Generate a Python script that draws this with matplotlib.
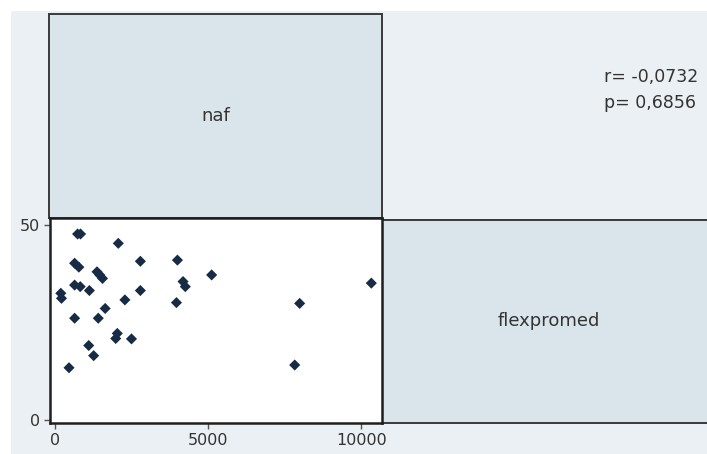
import matplotlib
matplotlib.use("Agg")
import matplotlib.pyplot as plt

# Scatter data: flexpromed (x) against naf (y)
flexpromed = [740, 836, 2068, 643, 781, 1373, 1463, 1553, 2788, 3997,
              5113, 4180, 4254, 3965, 643, 826, 1125, 193, 215, 2788,
              2283, 1640, 643, 1415, 2035, 1984, 2498, 1103, 1264, 460,
              10322, 7984, 7823]
naf = [47.7, 47.7, 45.3, 40.2, 39.2, 38.0, 37.2, 36.3, 40.7, 41.0,
       37.2, 35.5, 34.2, 30.1, 34.6, 34.2, 33.2, 32.5, 31.2, 33.2,
       30.8, 28.6, 26.1, 26.1, 22.2, 20.9, 20.8, 19.1, 16.5, 13.4,
       35.1, 29.9, 14.1]

x_ticks = [0, 5000, 10000]
y_ticks = [0, 50]
var_labels = ["naf", "flexpromed"]
stats_text = ["r= -0,0732", "p= 0,6856"]

W, H = 707, 454
BG = "#eaf0f3"
CELL = "#d9e4eb"
TXT = "#333333"
MARK = "#172c44"

plt.rcParams["font.family"] = ["DejaVu Sans"]
fig = plt.figure(figsize=(W / 100, H / 100), dpi=100, facecolor="white")

# plot region background
bg = fig.add_axes([11 / W, 0, 1 - 11 / W, 1 - 11 / H], zorder=-10)
bg.set_facecolor(BG)
bg.set_xticks([])
bg.set_yticks([])
for s in bg.spines.values():
    s.set_visible(False)


def box(px_left, px_top, px_right, px_bottom):
    return [px_left / W, 1 - px_bottom / H,
            (px_right - px_left) / W, (px_bottom - px_top) / H]


def label_cell(ax, text):
    ax.set_facecolor(CELL)
    ax.set_xticks([])
    ax.set_yticks([])
    for s in ax.spines.values():
        s.set_color("#3a3a3a")
        s.set_linewidth(1.4)
    ax.text(0.5, 0.5, text, ha="center", va="center", fontsize=13,
            color=TXT, transform=ax.transAxes)


# diagonal label cells
ax_top = fig.add_axes(box(49, 14, 382, 218))
label_cell(ax_top, var_labels[0])

ax_right = fig.add_axes(box(382, 220, 716, 423))
label_cell(ax_right, var_labels[1])

# correlation text in the upper-right cell
fig.text(604 / W, 1 - 77 / H, stats_text[0], ha="left", va="center",
         fontsize=12.5, color=TXT)
fig.text(604 / W, 1 - 103 / H, stats_text[1], ha="left", va="center",
         fontsize=12.5, color=TXT)

# scatter cell
ax = fig.add_axes(box(50, 218, 382, 423))
ax.set_facecolor("white")
ax.scatter(flexpromed, naf, marker="D", s=32, color=MARK, edgecolors="none",
           zorder=3, clip_on=False)
ax.set_xlim(-160, 10670)
ax.set_ylim(-0.77, 51.8)
ax.set_xticks(x_ticks)
ax.set_yticks(y_ticks)
ax.set_xticklabels([str(v) for v in x_ticks])
ax.set_yticklabels([str(v) for v in y_ticks])
ax.tick_params(axis="both", length=4, width=1, color="#555555",
               labelsize=11.5, labelcolor=TXT, pad=3)
for s in ax.spines.values():
    s.set_color("#1e1e1e")
    s.set_linewidth(1.8)

fig.savefig("out.png", dpi=100, facecolor="white")
